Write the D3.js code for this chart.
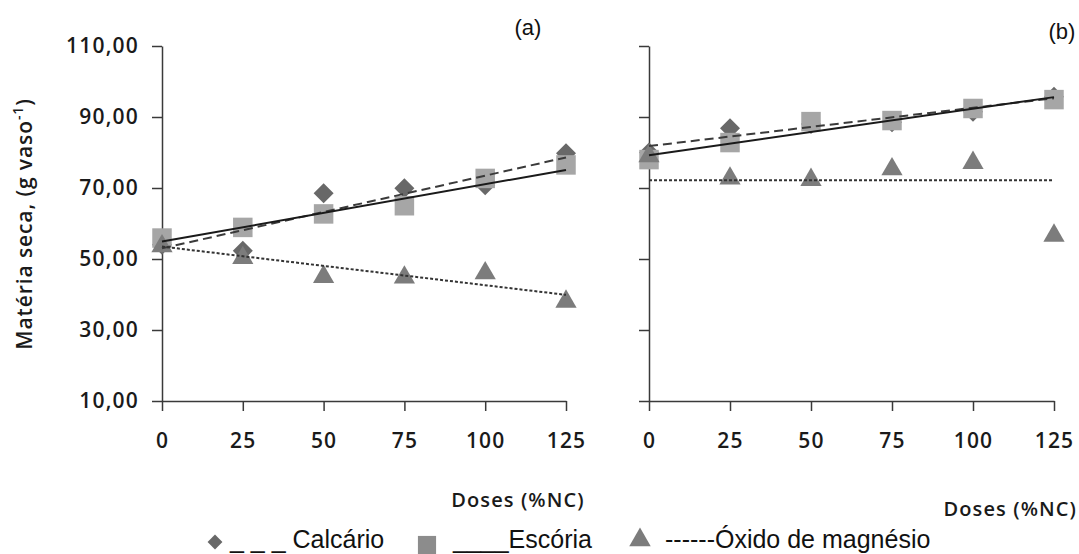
<!DOCTYPE html>
<html>
<head>
<meta charset="utf-8">
<script src="https://cdn.jsdelivr.net/npm/d3@7"></script>
<style>
  body { margin: 0; background: #fff; }
  .tick text { font-family: "Open Sans", sans-serif; font-weight: 600; font-size: 21px; letter-spacing: 1.2px; fill: #1a1a1a; }
</style>
</head>
<body>
<svg id="chart" width="1079" height="554"></svg>
<script>
// Doses (%NC) and axis ticks
const doses = [0, 25, 50, 75, 100, 125];
const yTicks = [10, 30, 50, 70, 90, 110];

// Panel (a): dry matter, g per pot
const calcarioA = [54.0, 52.3, 68.5, 69.9, 70.8, 79.8];
const escoriaA  = [55.9, 58.9, 62.7, 65.0, 72.7, 76.5];
const oxidoA    = [53.6, 50.3, 45.0, 44.8, 46.0, 38.0];

// Panel (b)
const calcarioB = [80.0, 86.8, 88.0, 88.5, 91.5, 95.7];
const escoriaB  = [78.0, 82.8, 88.7, 89.0, 92.4, 94.9];
const oxidoB    = [79.0, 72.7, 72.3, 75.3, 77.1, 56.6];

// Fitted trend lines: value at dose 0 and at dose 125
const trendCalcarioA = [53.0, 78.6];
const trendEscoriaA  = [54.9, 75.1];
const trendOxidoA    = [53.5, 39.9];
const trendCalcarioB = [81.8, 95.3];
const trendEscoriaB  = [79.2, 95.6];
const trendOxidoB    = [72.2, 72.2];

const seriesNames = ["Calcário", "Escória", "Óxido de magnésio"];

const svg = d3.select("#chart");
const y = d3.scaleLinear().domain([10, 110]).range([401, 46]);

const styles = {
  calcario: { fill: "#686868", shape: "diamond", dash: "9,5",  stroke: "#3a3a3a" },
  escoria:  { fill: "#a6a6a6", shape: "square",  dash: null,   stroke: "#1a1a1a" },
  oxido:    { fill: "#7c7c7c", shape: "triangle",dash: "3,2",  stroke: "#333333" }
};

function symbolPath(shape) {
  if (shape === "diamond") return d3.symbol(d3.symbolSquare, 200)();
  if (shape === "square") return d3.symbol(d3.symbolSquare, 380)();
  return d3.symbol(d3.symbolTriangle, 195)();
}

function panel(x0, x1, label, labelX, labelY, showYLabels, data, trends, dosesLabel) {
  const x = d3.scaleLinear().domain([0, 125]).range([x0, x1]);
  const g = svg.append("g");

  // axes
  const yAxis = d3.axisLeft(y).tickValues(yTicks).tickSize(10).tickSizeOuter(0).tickPadding(13)
    .tickFormat(showYLabels ? (d => d3.format(".2f")(d).replace(".", ",")) : "");
  const ga = g.append("g").attr("transform", `translate(${x0},0)`).call(yAxis);
  const xAxis = d3.axisBottom(x).tickValues(doses).tickSize(10).tickSizeOuter(0).tickPadding(22);
  const gx = g.append("g").attr("transform", `translate(0,${y(10)})`).call(xAxis);
  [ga, gx].forEach(a => {
    a.selectAll("path.domain").attr("stroke", "#3a3a3a").attr("stroke-width", 1.5);
    a.selectAll(".tick line").attr("stroke", "#3a3a3a").attr("stroke-width", 1.5);
  });

  // markers, in series order
  data.forEach(s => {
    const st = styles[s.key];
    g.append("g").selectAll("path").data(s.values).join("path")
      .attr("d", symbolPath(st.shape))
      .attr("transform", (v, i) => `translate(${x(doses[i])},${y(v)})` + (st.shape === "diamond" ? " rotate(45)" : ""))
      .attr("fill", st.fill);
  });

  // trend lines over the markers
  trends.forEach(t => {
    const st = styles[t.key];
    g.append("line")
      .attr("x1", x(0)).attr("y1", y(t.ends[0]))
      .attr("x2", x(125)).attr("y2", y(t.ends[1]))
      .attr("stroke", st.stroke).attr("stroke-width", 2)
      .attr("stroke-dasharray", st.dash);
  });

  svg.append("text").attr("x", labelX).attr("y", labelY)
    .attr("text-anchor", "middle")
    .style("font-family", "'Liberation Sans', Arial, sans-serif").style("font-size", "22px")
    .attr("fill", "#111").text(label);

  svg.append("text").attr("x", dosesLabel[0]).attr("y", dosesLabel[1])
    .attr("text-anchor", dosesLabel[2])
    .style("font-family", "'Open Sans', sans-serif").style("font-weight", 600).style("font-size", "20px")
    .style("letter-spacing", "1.1px")
    .attr("fill", "#1a1a1a").text("Doses (%NC)");
}

panel(162, 566, "(a)", 528, 35, true,
  [{ key: "calcario", values: calcarioA }, { key: "escoria", values: escoriaA }, { key: "oxido", values: oxidoA }],
  [{ key: "calcario", ends: trendCalcarioA }, { key: "escoria", ends: trendEscoriaA }, { key: "oxido", ends: trendOxidoA }],
  [518, 507, "middle"]);

panel(649, 1054, "(b)", 1062, 39, false,
  [{ key: "calcario", values: calcarioB }, { key: "escoria", values: escoriaB }, { key: "oxido", values: oxidoB }],
  [{ key: "calcario", ends: trendCalcarioB }, { key: "escoria", ends: trendEscoriaB }, { key: "oxido", ends: trendOxidoB }],
  [1077, 516, "end"]);

// y axis title
const yt = svg.append("text")
  .attr("transform", "translate(32,224) rotate(-90)")
  .attr("text-anchor", "middle")
  .style("font-family", "'Open Sans', sans-serif").style("font-weight", 600).style("font-size", "21px")
  .style("letter-spacing", "0.9px")
  .attr("fill", "#1a1a1a");
yt.append("tspan").text("Matéria seca, (g vaso");
yt.append("tspan").attr("dy", -9).style("font-size", "14px").text("-1");
yt.append("tspan").attr("dy", 9).text(")");

// legend
const legend = svg.append("g")
  .style("font-family", "'Liberation Sans', Arial, sans-serif").style("font-size", "25px").attr("fill", "#111");
const legendItems = [
  { key: "calcario", mx: 215, my: 542, prefix: "_ _ _ ", tx: 230, size: 110 },
  { key: "escoria",  mx: 427, my: 545, prefix: "____",   tx: 453, size: 330 },
  { key: "oxido",    mx: 640, my: 540, prefix: "------", tx: 665, size: 200 }
];
legendItems.forEach((it, i) => {
  const st = styles[it.key];
  const shape = st.shape === "triangle" ? d3.symbolTriangle : d3.symbolSquare;
  legend.append("path")
    .attr("d", d3.symbol(shape, it.size)())
    .attr("transform", `translate(${it.mx},${it.my})` + (st.shape === "diamond" ? " rotate(45)" : ""))
    .attr("fill", st.shape === "square" ? "#8c8c8c" : st.fill);
  legend.append("text").attr("x", it.tx).attr("y", 548)
    .text(it.prefix + seriesNames[i]);
});
</script>
</body>
</html>
